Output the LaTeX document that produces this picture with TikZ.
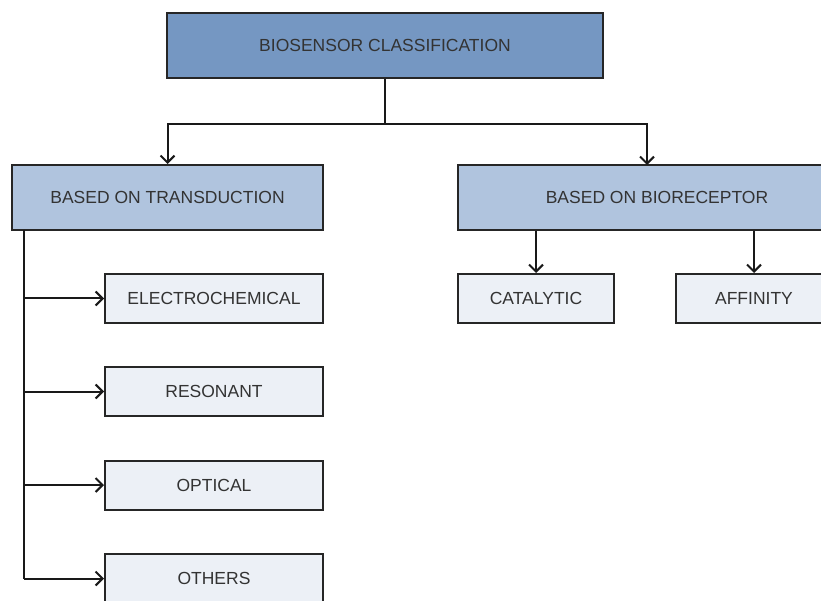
\documentclass[tikz,border=0pt]{standalone}
\usepackage{fontspec}
\setmainfont{Liberation Sans}
\usetikzlibrary{arrows.meta}

\definecolor{topblue}{RGB}{117,151,194}
\definecolor{midblue}{RGB}{176,196,222}
\definecolor{leafblue}{RGB}{236,240,246}

\tikzset{
  box/.style={draw=black!85, line width=2pt, align=center, inner sep=0pt,
    font=\fontsize{17.5}{21}\selectfont, text=black!80},
  topbox/.style={box, fill=topblue, minimum width=436pt, minimum height=65pt},
  midbox/.style={box, fill=midblue, minimum height=65pt},
  leafbox/.style={box, fill=leafblue, minimum width=218pt, minimum height=49pt},
  link/.style={draw=black!90, line width=2pt},
  arr/.style={link, -{Straight Barb[length=7pt,width=14pt,line width=2pt]}}
}

\begin{document}
\begin{tikzpicture}[x=1pt, y=-1pt]
  \clip (0,0) rectangle (821,601);
  \fill[white] (0,0) rectangle (821,601);

  \node[topbox] (cls) at (385,45.5) {BIOSENSOR CLASSIFICATION};
  \node[midbox, minimum width=311pt] (trans) at (167.5,197.5) {BASED ON TRANSDUCTION};
  \node[midbox, minimum width=398pt] (bio) at (657,197.5) {BASED ON BIORECEPTOR};

  \node[leafbox] (electro) at (214,298.5) {ELECTROCHEMICAL};
  \node[leafbox] (resonant) at (214,391.5) {RESONANT};
  \node[leafbox] (optical) at (214,485) {OPTICAL};
  \node[leafbox] (others) at (214,578.5) {OTHERS};

  \node[leafbox, minimum width=156pt] (cat) at (536,298.5) {CATALYTIC};
  \node[leafbox, minimum width=156pt] (aff) at (754,298.5) {AFFINITY};

  \coordinate (split) at (385,124);
  \coordinate (bioin) at (647,165);
  \coordinate (trunk) at (24,230);

  \draw[link] (cls.south) -- (split);
  \draw[arr] (split) -| (trans.north);
  \draw[arr] (split) -| (bioin);

  % trunk of the transduction branch
  \draw[link] (trunk) -- (trunk |- others.west);
  \foreach \n in {electro,resonant,optical,others}
    \draw[arr] (trunk |- \n.west) -- (\n.west);

  \draw[arr] (bio.south -| cat.north) -- (cat.north);
  \draw[arr] (bio.south -| aff.north) -- (aff.north);
\end{tikzpicture}
\end{document}
